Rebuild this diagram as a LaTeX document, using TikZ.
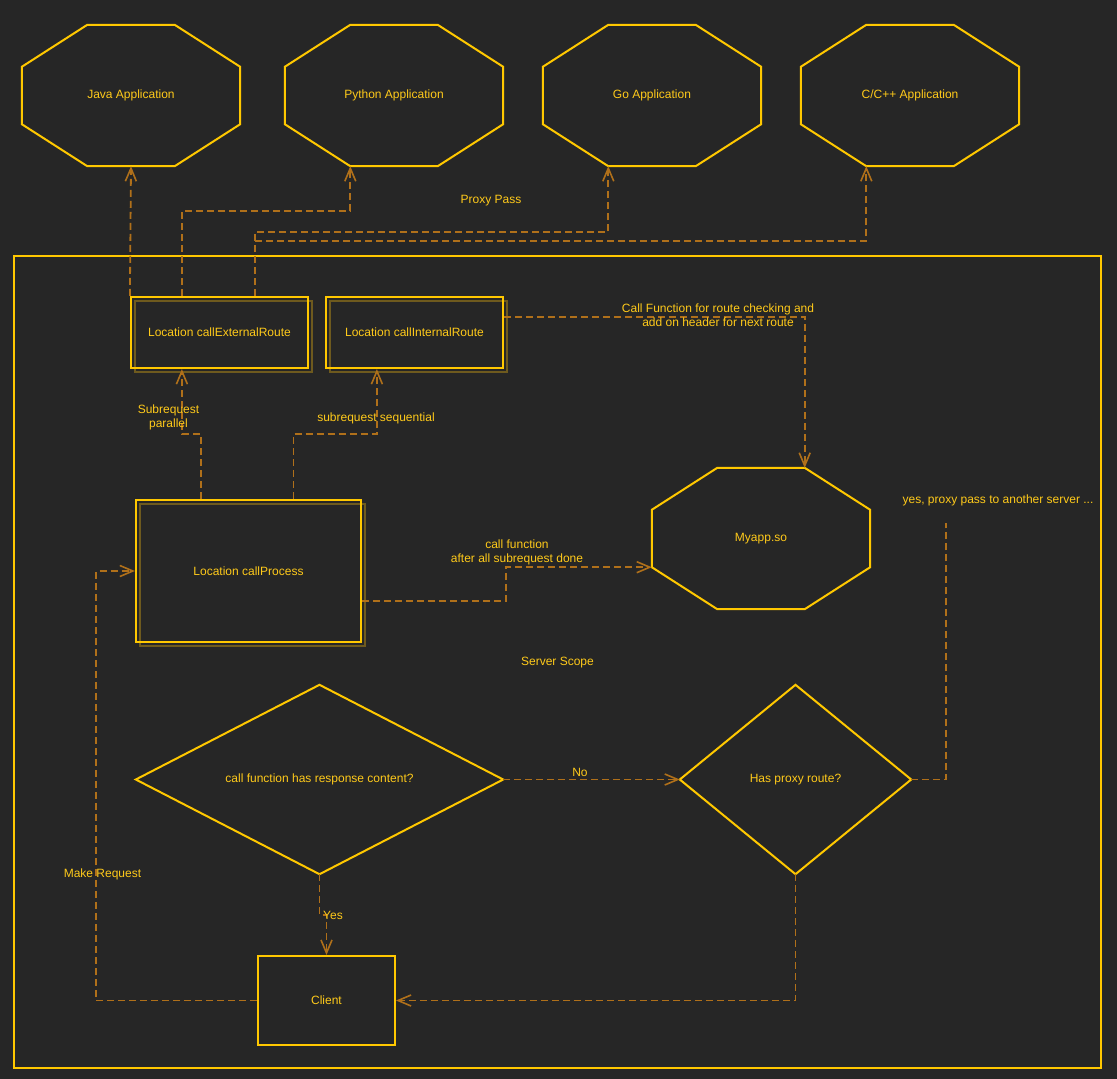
\documentclass[tikz,border=0pt]{standalone}
\usepackage{fontspec}
\setmainfont{Liberation Sans}
\usetikzlibrary{arrows.meta,calc}
\definecolor{bgc}{HTML}{262626}
\definecolor{gold}{HTML}{FFC800}
\definecolor{txt}{HTML}{FFCA1A}
\definecolor{conn}{RGB}{176,112,26}
\definecolor{shadowc}{RGB}{110,90,30}
\tikzset{
  every node/.style={font=\fontsize{12}{14}\selectfont, text=txt},
  shapeline/.style={draw=gold, line width=2pt, line join=miter},
  area/.style={draw=none, inner sep=0pt},
  boxnode/.style={draw=gold, line width=2.2pt, inner sep=0pt},
  conn/.style={draw=conn, line width=1.8pt, dash pattern=on 7pt off 4pt, -{Straight Barb[length=13pt,width=11pt,line width=1.6pt]}},
  connplain/.style={draw=conn, line width=1.8pt, dash pattern=on 7pt off 4pt},
  lbl/.style={inner sep=0pt, align=center},
}
\newcommand\octdraw[1]{%
  \draw[shapeline] ($(#1.north west)+(65.5,0)$) -- ($(#1.north east)+(-65.5,0)$)
    -- ($(#1.north east)+(0,42)$) -- ($(#1.south east)+(0,-42)$)
    -- ($(#1.south east)+(-65.5,0)$) -- ($(#1.south west)+(65.5,0)$)
    -- ($(#1.south west)+(0,-42)$) -- ($(#1.north west)+(0,42)$) -- cycle;}
\newcommand\diadraw[1]{%
  \draw[shapeline] (#1.north) -- (#1.east) -- (#1.south) -- (#1.west) -- cycle;}
\begin{document}
\begin{tikzpicture}[x=1pt,y=-1pt]
\fill[bgc] (0,0) rectangle (1117,1079);
\useasboundingbox (0,0) rectangle (1117,1079);

% server scope
\node[area, draw=gold, line width=2pt, minimum width=1087pt, minimum height=812pt] (scope) at (557.5,662) {};
\node[lbl] (scopelbl) at (557.5,663) {Server Scope};

% applications
\node[area, minimum width=218pt, minimum height=141pt] (java) at (131,95.5) {Java Application};
\node[area, minimum width=218pt, minimum height=141pt] (python) at (394,95.5) {Python Application};
\node[area, minimum width=218pt, minimum height=141pt] (go) at (652,95.5) {Go Application};
\node[area, minimum width=218pt, minimum height=141pt] (cpp) at (910,95.5) {C/C++ Application};
\node[area, minimum width=218pt, minimum height=141pt] (myapp) at (761,538.5) {Myapp.so};
\octdraw{java}\octdraw{python}\octdraw{go}\octdraw{cpp}\octdraw{myapp}

% location boxes with shadow
\draw[shadowc, line width=2pt] (135,301) rectangle (312,372);
\draw[shadowc, line width=2pt] (330,301) rectangle (507,372);
\draw[shadowc, line width=2pt] (140,504) rectangle (365,646);
\node[boxnode, minimum width=177pt, minimum height=71pt] (ext) at (219.5,332.5) {Location callExternalRoute};
\node[boxnode, minimum width=177pt, minimum height=71pt] (int) at (414.5,332.5) {Location callInternalRoute};
\node[boxnode, minimum width=225pt, minimum height=142pt] (proc) at (248.5,571) {Location callProcess};

% decisions and client
\node[area, minimum width=367pt, minimum height=189pt] (d1) at (319.5,779.5) {call function has response content?};
\node[area, minimum width=231pt, minimum height=189pt] (d2) at (795.5,779.5) {Has proxy route?};
\diadraw{d1}\diadraw{d2}
\node[boxnode, line width=2pt, minimum width=137pt, minimum height=89pt] (client) at (326.5,1000.5) {Client};

% helper coordinates
\coordinate (pyb) at ($(python.south west)+(65.5,0)$);
\coordinate (gob) at ($(go.south west)+(65.5,0)$);
\coordinate (cppb) at ($(cpp.south west)+(65.5,0)$);
\coordinate (myt) at ($(myapp.north east)+(-65.5,0)$);
\coordinate (myl) at ($(myapp.south west)+(0,-42)$);
\coordinate (e1) at ($(ext.north west)+(52,0)$);
\coordinate (e2) at ($(ext.north west)+(125,0)$);
\coordinate (eb) at ($(ext.south west)+(52,0)$);
\coordinate (ib) at ($(int.south west)+(52,0)$);
\coordinate (i1) at ($(int.north east)+(0,21)$);
\coordinate (p1) at ($(proc.north west)+(66,0)$);
\coordinate (p2) at ($(proc.north west)+(158.5,0)$);
\coordinate (p3) at ($(proc.south east)+(0,-42)$);
\coordinate (h1) at (0,211);
\coordinate (h2) at (0,232);
\coordinate (h3) at (0,241);
\coordinate (h4) at (0,434);
\coordinate (h5) at (0,915);
\coordinate (k1) at (506,0);
\coordinate (k2) at (96,0);
\coordinate (yesend) at (946,523);

% connectors
\draw[conn] (ext.north west) -- (java.south);
\draw[conn] (e1) -- (e1 |- h1) -| (pyb);
\draw[conn] (e2) -- (e2 |- h2) -| (gob);
\draw[conn] (e2) -- (e2 |- h3) -| (cppb);
\draw[conn] (i1) -| (myt);
\draw[conn] (p1) -- (p1 |- h4) -| (eb);
\draw[conn] (p2) -- (p2 |- h4) -| (ib);
\draw[conn] (p3) -| (k1 |- myl) -- (myl);
\draw[conn] (d1.east) -- (d2.west);
\draw[connplain] (d2.east) -| (yesend);
\draw[conn] (d1.south) -- (d1.south |- h5) -| (client.north);
\draw[conn] (d2.south) |- (client.east);
\draw[conn] (client.west) -| (k2 |- proc.west) -- (proc.west);

% labels
\node[lbl] (lproxy) at (491,201) {Proxy Pass};
\node[lbl] (lcallfn) at (718,315) {Call Function for route checking and\\add on header for next route};
\node[lbl] (lpar) at (168.5,417.5) {Subrequest\\parallel};
\node[lbl] (lseq) at (376,418.5) {subrequest sequential};
\node[lbl] (lafter) at (517,552) {call function\\after all subrequest done};
\node[lbl] (lno) at (580,772.5) {No};
\node[lbl] (lyesproxy) at (998,500.5) {yes, proxy pass to another server ...};
\node[lbl] (lyes) at (333,915.5) {Yes};
\node[lbl] (lmake) at (102.5,874.5) {Make Request};
\end{tikzpicture}
\end{document}
